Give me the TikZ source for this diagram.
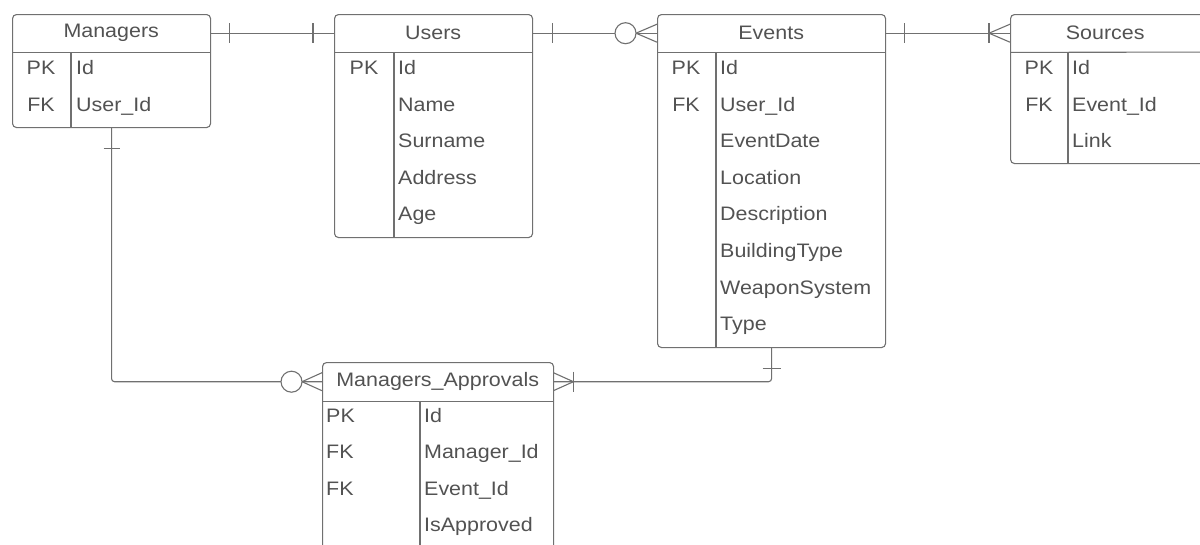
\documentclass[tikz,border=0pt]{standalone}
\usepackage{fontspec}
\setmainfont[FakeStretch=1.1]{Liberation Sans}
\usepackage{tikz}
\usepackage{xcolor}
\usetikzlibrary{arrows.meta}

\definecolor{erline}{RGB}{112,112,112}
\definecolor{ertext}{RGB}{82,82,82}

\begin{document}
\begin{tikzpicture}[x=1pt, y=-1pt,
        line/.style   = {draw=erline, line width=1.1pt},
        entity/.style = {rectangle, draw=erline, line width=1.1pt, rounded corners=4pt,
                         anchor=north west, inner sep=0pt},
        head/.style   = {rectangle, anchor=north west, inner sep=0pt, minimum height=38pt,
                         text=ertext, font=\fontsize{19.5}{22}\selectfont},
        key/.style    = {text=ertext, font=\fontsize{19.5}{22}\selectfont, inner sep=0pt,
                         text height=0.9em, text depth=0pt},
        field/.style  = {key, anchor=west}]

    \useasboundingbox (0,0) rectangle (1200,544);
    \clip (0,0) rectangle (1200,544);

    % tables
    \node[entity, minimum width=198, minimum height=113] (Managers) at (12,14)  {};
    \node[entity, minimum width=198, minimum height=223] (Users)    at (334,14) {};
    \node[entity, minimum width=228, minimum height=333] (Events)   at (657,14) {};
    \node[entity, minimum width=230, minimum height=149] (Sources)  at (1010,14) {};
    \node[entity, minimum width=231, minimum height=220] (Approvals) at (322,362) {};

    \node[head, minimum width=198] (ManagersHead)  at (12,14)   {Managers};
    \node[head, minimum width=198] (UsersHead)     at (334,14)  {Users};
    \node[head, minimum width=228] (EventsHead)    at (657,14)  {Events};
    \node[head, minimum width=190] (SourcesHead)   at (1010,14) {Sources};
    \node[head, minimum width=231, minimum height=39] (ApprovalsHead) at (322,362) {Managers\_Approvals};

    \draw[line] (ManagersHead.south west) -- (ManagersHead.south east);
    \draw[line] (UsersHead.south west) -- (UsersHead.south east);
    \draw[line] (EventsHead.south west) -- (EventsHead.south east);
    \draw[line] (SourcesHead.south west) -- (1240,52);
    \draw[line] (ApprovalsHead.south west) -- (ApprovalsHead.south east);

    \draw[line] (71,52)   -- (71,127);
    \draw[line] (394,52)  -- (394,237);
    \draw[line] (716,52)  -- (716,347);
    \draw[line] (1068,52) -- (1068,163);
    \draw[line] (420,401) -- (420,582);

    % rows
    \foreach \k/\f [count=\i from 0] in {PK/Id, FK/User\_Id} {
        \node[key] at (41, 70+36.7*\i) {\k};
        \node[field] at (76, 70+36.7*\i) {\f};
    }
    \foreach \k/\f [count=\i from 0] in {PK/Id, /Name, /Surname, /Address, /Age} {
        \node[key] at (364, 70+36.6*\i) {\k};
        \node[field] at (398, 70+36.6*\i) {\f};
    }
    \foreach \k/\f [count=\i from 0] in {PK/Id, FK/User\_Id, /EventDate, /Location,
            /Description, /BuildingType, /WeaponSystem, /Type} {
        \node[key] at (686, 70+36.6*\i) {\k};
        \node[field] at (720, 70+36.6*\i) {\f};
    }
    \foreach \k/\f [count=\i from 0] in {PK/Id, FK/Event\_Id, /Link} {
        \node[key] at (1039, 70+36.6*\i) {\k};
        \node[field] at (1072, 70+36.6*\i) {\f};
    }
    \foreach \k/\f [count=\i from 0] in {PK/Id, FK/Manager\_Id, FK/Event\_Id, /IsApproved} {
        \node[field] at (326, 418+36.4*\i) {\k};
        \node[field] at (424, 418+36.4*\i) {\f};
    }

    % relations
    \draw[line] (ManagersHead.east) -- (UsersHead.west);
    \draw[line] ([xshift=19]ManagersHead.east) +(0,-10) -- +(0,10);
    \draw[line] ([xshift=-21]UsersHead.west) +(0,-10) -- +(0,10);

    \draw[line] (UsersHead.east) -- (EventsHead.west);
    \draw[line] ([xshift=20]UsersHead.east) +(0,-10) -- +(0,10);
    \draw[line] ([yshift=9]EventsHead.west) -- ([xshift=-21]EventsHead.west)
                -- ([yshift=-9]EventsHead.west);
    \draw[line, fill=white] ([xshift=-31.5]EventsHead.west) circle (10.5);

    \draw[line] (EventsHead.east) -- (SourcesHead.west);
    \draw[line] ([xshift=19]EventsHead.east) +(0,-10) -- +(0,10);
    \draw[line] ([xshift=-21]SourcesHead.west) +(0,-10) -- +(0,10);
    \draw[line] ([yshift=9]SourcesHead.west) -- ([xshift=-21]SourcesHead.west)
                -- ([yshift=-9]SourcesHead.west);

    \draw[line, rounded corners=3pt] (Managers.south) |- (ApprovalsHead.west);
    \draw[line] ([yshift=-20]Managers.south) +(-8,0) -- +(8,0);
    \draw[line] ([yshift=9]ApprovalsHead.west) -- ([xshift=-20]ApprovalsHead.west)
                -- ([yshift=-9]ApprovalsHead.west);
    \draw[line, fill=white] ([xshift=-30.5]ApprovalsHead.west) circle (10.5);

    \draw[line, rounded corners=3pt] (Events.south) |- (ApprovalsHead.east);
    \draw[line] ([yshift=-20]Events.south) +(-9,0) -- +(9,0);
    \draw[line] ([xshift=20]ApprovalsHead.east) +(0,-10) -- +(0,10);
    \draw[line] ([yshift=9]ApprovalsHead.east) -- ([xshift=20]ApprovalsHead.east)
                -- ([yshift=-9]ApprovalsHead.east);
\end{tikzpicture}
\end{document}
